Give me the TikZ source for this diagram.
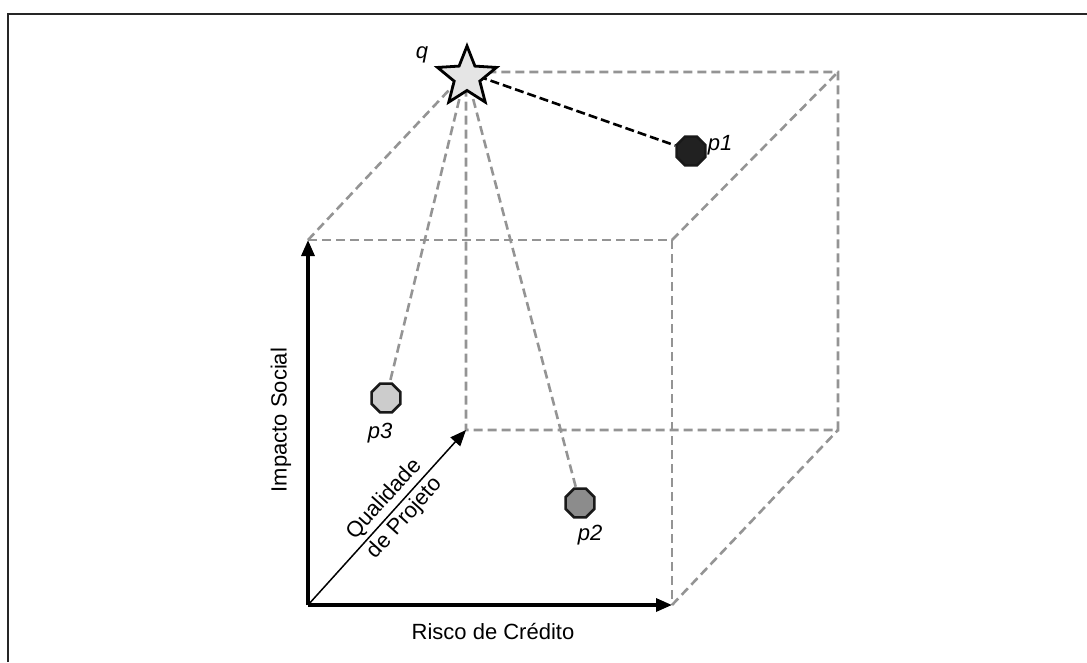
\documentclass[tikz,border=0pt]{standalone}
\usepackage{fontspec}
\setmainfont{Liberation Sans}
\usetikzlibrary{arrows.meta,shapes.geometric}

\begin{document}
\begin{tikzpicture}[x=1pt,y=-1pt,
  edge/.style={draw=black!42,line width=2.6pt,dash pattern=on 9pt off 5pt},
  axis/.style={line width=3.2pt,-{Triangle[length=16pt,width=13pt]}},
  pt/.style={regular polygon,regular polygon sides=8,minimum size=31pt,inner sep=0pt,draw=black!90,line width=2.6pt},
  lbl/.style={font=\fontsize{22}{28}\selectfont},
  plbl/.style={font=\fontsize{22}{26}\selectfont\itshape}]
\useasboundingbox (0,0) rectangle (1087,662);
\draw[line width=2.4pt,black!85] (8,662) -- (8,14) -- (1087,14);
\coordinate (o) at (308,605);
\coordinate (a) at (308,240);
\coordinate (b) at (672,605);
\coordinate (c) at (672,240);
\coordinate (q) at (466,72);
\coordinate (d) at (838,72);
\coordinate (e) at (838,430);
\coordinate (f) at (466,430);
\draw[edge] (a) -- (c) -- (b);
\draw[edge] (a) -- (q) -- (d) -- (e) -- (f) -- (q);
\draw[edge] (c) -- (d);
\draw[edge] (b) -- (e);
\node[pt,fill=black!87] (p1) at (691,151) {};
\node[pt,fill=black!45] (p2) at (580,503) {};
\node[pt,fill=black!20] (p3) at (386,398) {};
\draw[edge] (q) -- (p3);
\draw[edge] (q) -- (p2);
\draw[line width=2.6pt,dash pattern=on 9pt off 4pt] (q) -- (p1);
\node[star,star points=5,star point ratio=2.3,minimum size=62pt,inner sep=0pt,draw,fill=black!10,line width=2.8pt] (qs) at (467,77) {};
\node[plbl] (qlbl) at (422,55) {q};
\node[plbl] (p1lbl) at (720,145) {p1};
\node[plbl] (p2lbl) at (590,535) {p2};
\node[plbl] (p3lbl) at (380,433) {p3};
\draw[axis] (o) -- (a);
\draw[axis] (o) -- (b);
\draw[line width=1.5pt,-{Triangle[length=16pt,width=13pt]}] (o) -- (f)
  node[lbl,pos=0.55,sloped,align=center] (qualidade) {Qualidade\\de Projeto};
\node[lbl,rotate=90] (impacto) at (281,420) {Impacto Social};
\node[lbl] (risco) at (493,631) {Risco de Crédito};
\end{tikzpicture}
\end{document}
